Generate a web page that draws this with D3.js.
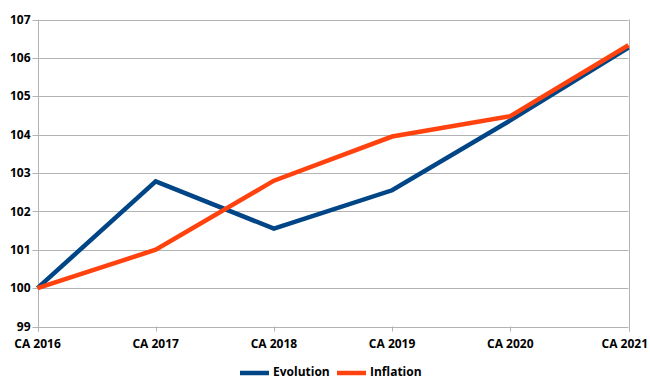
<!DOCTYPE html>
<html>
<head>
<meta charset="utf-8">
<script src="https://cdn.jsdelivr.net/npm/d3@7"></script>
<style>
  html, body { margin: 0; padding: 0; background: #fff; }
  svg { display: block; }
  text { font-family: "Open Sans", "Liberation Sans", sans-serif; font-weight: bold; fill: #000; }
</style>
</head>
<body>
<svg id="chart" width="650" height="379"></svg>
<script>
// Categories and series
const categories = ["CA 2016", "CA 2017", "CA 2018", "CA 2019", "CA 2020", "CA 2021"];
const evolution = [100, 102.78, 101.55, 102.55, 104.37, 106.27];
const inflation = [100, 101.0, 102.8, 103.95, 104.48, 106.33];
const yTicks = [99, 100, 101, 102, 103, 104, 105, 106, 107];
const seriesNames = ["Evolution", "Inflation"];
const seriesColors = ["#004586", "#ff420e"];

const svg = d3.select("#chart");
const margin = { left: 37.5, right: 21.5, top: 19.5, bottom: 52.5 };
const W = 650, H = 379;

const x = d3.scalePoint().domain(categories).range([margin.left, W - margin.right]);
const y = d3.scaleLinear().domain([99, 107]).range([H - margin.bottom, margin.top]);

// Horizontal gridlines
svg.append("g")
  .selectAll("line")
  .data(yTicks)
  .join("line")
  .attr("x1", margin.left - 5)
  .attr("x2", W - margin.right)
  .attr("y1", d => Math.round(y(d)) + 0.5)
  .attr("y2", d => Math.round(y(d)) + 0.5)
  .attr("stroke", "#b3b3b3")
  .attr("stroke-width", 1);

// Left axis line and right border
[margin.left, W - margin.right].forEach(px => {
  svg.append("line")
    .attr("x1", Math.round(px) + 0.5).attr("x2", Math.round(px) + 0.5)
    .attr("y1", y(107)).attr("y2", y(99) + 5)
    .attr("stroke", "#b3b3b3").attr("stroke-width", 1);
});

// X tick marks
svg.append("g")
  .selectAll("line")
  .data(categories)
  .join("line")
  .attr("x1", d => Math.round(x(d)) + 0.5)
  .attr("x2", d => Math.round(x(d)) + 0.5)
  .attr("y1", y(99))
  .attr("y2", y(99) + 5)
  .attr("stroke", "#b3b3b3");

// Y labels
svg.append("g")
  .selectAll("text")
  .data(yTicks)
  .join("text")
  .attr("x", margin.left - 7)
  .attr("y", d => y(d))
  .attr("dy", "0.35em")
  .attr("text-anchor", "end")
  .attr("font-size", 12)
  .text(d => d);

// X labels (the last one is kept inside the page edge)
svg.append("g")
  .selectAll("text")
  .data(categories)
  .join("text")
  .attr("x", (d, i) => i === categories.length - 1 ? W - 2 : x(d))
  .attr("y", y(99) + 21)
  .attr("text-anchor", (d, i) => i === categories.length - 1 ? "end" : "middle")
  .attr("font-size", 12)
  .text(d => d);

// Lines
const line = d3.line().x((d, i) => x(categories[i])).y(d => y(d));
[evolution, inflation].forEach((vals, k) => {
  svg.append("path")
    .datum(vals)
    .attr("d", line)
    .attr("fill", "none")
    .attr("stroke", seriesColors[k])
    .attr("stroke-width", 4.5)
    .attr("stroke-linejoin", "miter");
});

// Legend
const legendItems = [
  { name: seriesNames[0], color: seriesColors[0], x: 240 },
  { name: seriesNames[1], color: seriesColors[1], x: 337 }
];
const lg = svg.append("g");
legendItems.forEach(it => {
  lg.append("line")
    .attr("x1", it.x).attr("x2", it.x + 29)
    .attr("y1", 373).attr("y2", 373)
    .attr("stroke", it.color).attr("stroke-width", 4.5);
  lg.append("text")
    .attr("x", it.x + 33)
    .attr("y", 372)
    .attr("dy", "0.35em")
    .attr("font-size", 12)
    .text(it.name);
});
</script>
</body>
</html>
